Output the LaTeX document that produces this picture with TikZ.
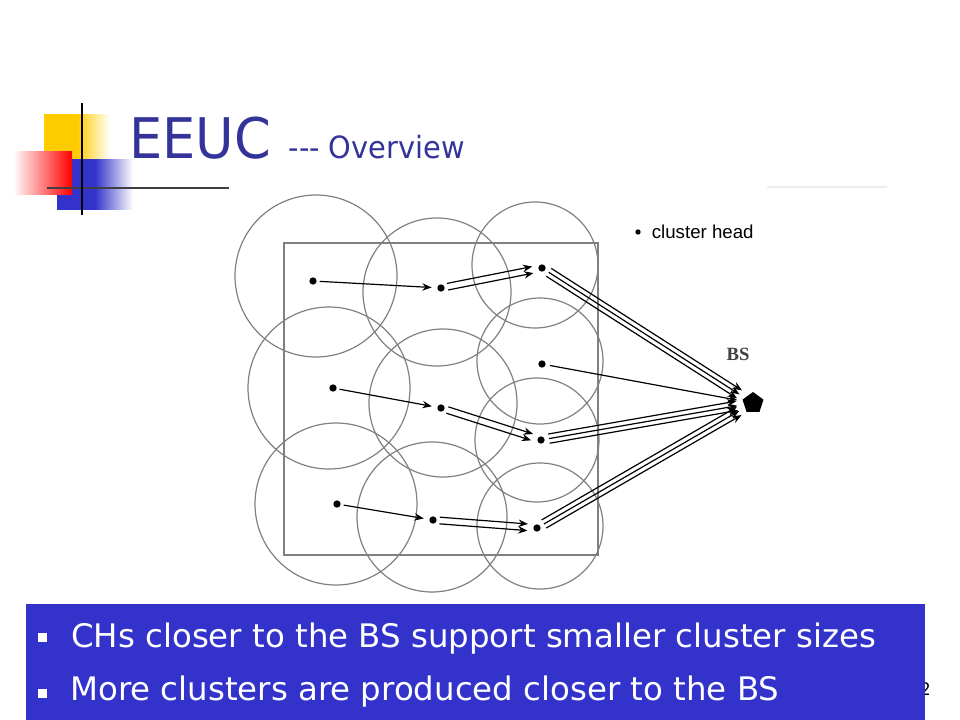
\documentclass[tikz,border=0pt]{standalone}
\usepackage{fontspec}
\setmainfont{DejaVu Sans}[FakeStretch=0.94]
\newfontfamily\pointfont{DejaVu Sans}
\newfontfamily\legendfont{Liberation Sans}
\newfontfamily\bsfont{Liberation Serif}
\usetikzlibrary{arrows.meta,positioning,shapes.geometric,calc}
\definecolor{titleblue}{RGB}{51,51,153}
\definecolor{boxblue}{RGB}{51,51,204}
\definecolor{logoyellow}{RGB}{255,204,0}
\definecolor{logored}{RGB}{255,0,0}

\begin{document}
\begin{tikzpicture}[
		x=0.75pt,y=-0.75pt,
		>={Stealth[length=7pt,width=5.5pt]},
		head/.style={
			fill=black,
			circle,
			minimum size=5.5pt,
			inner sep=0pt
		},
		zone/.style={
			draw=black!50,
			line width=0.9pt
		},
		link/.style={
			->,
			line width=0.9pt,
			shorten <=5pt,
			shorten >=7pt
		},
		tobs/.style={
			->,
			line width=0.9pt,
			shorten <=6pt,
			shorten >=12pt
		},
		square/.style={
			fill=white,
			minimum size=6.75pt,
			inner sep=0pt
		}
		]
		\useasboundingbox (0,0) rectangle (960,720);
		% logo
		\shade[left color=logoyellow,right color=white,middle color=logoyellow] (44,115) rectangle (110,160);
		\shade[left color=boxblue,right color=white,middle color=boxblue] (57,160) rectangle (133,210);
		\shade[left color=white,right color=logored] (13,152) rectangle (72,195);
		\draw[black!75,line width=2.2pt] (47,188) -- (229,188);
		\draw[black,line width=1.5pt] (82,103) -- (82,215);
		\draw[black!7,line width=1pt] (767,187) -- (887,187);
		% title
		\node[anchor=base west,inner sep=0pt,text=titleblue,font=\fontsize{42}{42}\selectfont] (title) at (129,159) {EEUC};
		\node[anchor=base west,inner sep=0pt,text=titleblue,font=\fontsize{23}{23}\selectfont] (subtitle) at ($(title.base east)+(17,0)$) {-\kern0pt-\kern0pt- Overview};
		% field and clusters
		\draw[zone] (284,243) rectangle (598,555);
		\draw[zone] (316,276) circle[radius=81];
		\draw[zone] (437,292) circle[radius=74];
		\draw[zone] (535,265) circle[radius=63];
		\draw[zone] (329,388) circle[radius=81];
		\draw[zone] (443,403) circle[radius=74];
		\draw[zone] (540,361) circle[radius=63];
		\draw[zone] (537,440) circle[radius=62];
		\draw[zone] (336,504) circle[radius=81];
		\draw[zone] (432,517) circle[radius=75];
		\draw[zone] (540,526) circle[radius=63];
		% cluster heads
		\node[head] (h11) at (313,281) {};
		\node[head] (h12) at (441,288) {};
		\node[head] (h13) at (542,268) {};
		\node[head] (h21) at (333,388) {};
		\node[head] (h22) at (441,408) {};
		\node[head] (h23) at (541,440) {};
		\node[head] (h24) at (542,364) {};
		\node[head] (h31) at (337,504) {};
		\node[head] (h32) at (433,520) {};
		\node[head] (h33) at (537,528) {};
		\node[regular polygon,regular polygon sides=5,fill=black,minimum size=16.5pt,inner sep=0pt] (bs) at (753,403) {};
		\node[text=black!75,font=\bsfont\bfseries\fontsize{14}{14}\selectfont] (bslabel) at (738,354) {BS};
		% legend
		\node[head,minimum size=4pt] (keydot) at (638,232) {};
		\node[right=8pt of keydot,inner sep=0pt,font=\legendfont\fontsize{14}{14}\selectfont] (keytext) {cluster head};
		% hops
		\draw[link] (h11.center) -- (h12.center);
		\draw[link] (h21.center) -- (h22.center);
		\draw[link] (h31.center) -- (h32.center);
		\foreach \a/\b in {h12/h13,h22/h23,h32/h33}
			\foreach \o in {-1,1}
				\draw[link] ($(\a)!\o*2.5pt!90:(\b)$) -- ($(\b)!\o*2.5pt!-90:(\a)$);
		\foreach \a in {h13,h23,h33}
			\foreach \o in {-1,0,1}
				\draw[tobs] ($(\a)!\o*3.5pt!90:(bs)$) -- ($(bs)!\o*3.5pt!-90:(\a)$);
		\draw[tobs] (h24.center) -- (bs.center);
		% bottom box
		\node[font=\fontsize{13}{13}\selectfont] (pagenum) at (925.5,689) {2};
		\fill[boxblue] (26,604) rectangle (925,720);
		\node[square] (sq1) at (42,637) {};
		\node[square] (sq2) at (42,693) {};
		\node[anchor=base west,inner sep=0pt,text=white,font=\pointfont\fontsize{24.3}{25}\selectfont] (point1) at (71,647) {CHs closer to the BS support smaller cluster sizes};
		\node[anchor=base west,inner sep=0pt,text=white,font=\pointfont\fontsize{24.3}{25}\selectfont] (point2) at (70,700) {More clusters are produced closer to the BS};
		\end{tikzpicture}
\end{document}
